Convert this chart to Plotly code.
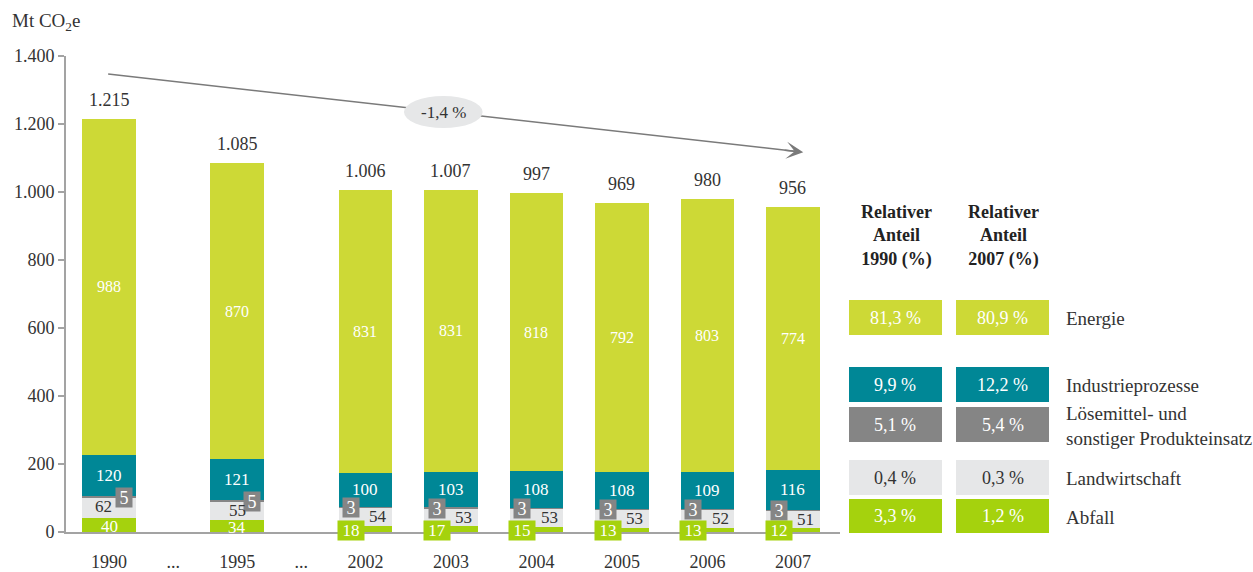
import plotly.graph_objects as go

# ---------------- data ----------------
years = ["1990", "1995", "2002", "2003", "2004", "2005", "2006", "2007"]
x_pos = [0, 1.5, 3, 4, 5, 6, 7, 8]          # gaps ("...") between 1990/1995/2002
gap_pos = [0.75, 2.25]
abfall = [40, 34, 18, 17, 15, 13, 13, 12]
landwirtschaft = [62, 55, 54, 53, 53, 53, 52, 51]
loesemittel = [5, 5, 3, 3, 3, 3, 3, 3]
industrie = [120, 121, 100, 103, 108, 108, 109, 116]
energie = [988, 870, 831, 831, 818, 792, 803, 774]
totals = [1215, 1085, 1006, 1007, 997, 969, 980, 956]
trend_label = "-1,4 %"
y_ticks = [0, 200, 400, 600, 800, 1000, 1200, 1400]
y_ticklabels = ["0", "200", "400", "600", "800", "1.000", "1.200", "1.400"]
table_names = ["Energie", "Industrieprozesse",
               "Lösemittel- und<br>sonstiger Produkteinsatz",
               "Landwirtschaft", "Abfall"]
share_1990 = ["81,3 %", "9,9 %", "5,1 %", "0,4 %", "3,3 %"]
share_2007 = ["80,9 %", "12,2 %", "5,4 %", "0,3 %", "1,2 %"]

# ---------------- style ----------------
C_ENERGIE = "#cdd936"
C_INDUSTRIE = "#008796"
C_LOESE = "#858585"
C_LAND = "#e6e7e8"
C_ABFALL = "#a5d20d"
TXT = "#333333"
AXIS = "#a3a3a3"
ARROW = "#7a7a7a"
FONT = "Liberation Serif"

W, H = 1253, 572
L, R, T, B = 66, 413, 56, 40
PW, PH = W - L - R, H - T - B
X0, X1 = -0.503, 8.55
Y0, Y1 = 0, 1400


def px_x(px):
    return (px - L) / PW


def px_y(py):
    return (H - B - py) / PH


def de(n):
    return f"{n:,}".replace(",", ".")


fig = go.Figure()
series = [("Abfall", abfall, C_ABFALL), ("Landwirtschaft", landwirtschaft, C_LAND),
          ("Lösemittel", loesemittel, C_LOESE), ("Industrieprozesse", industrie, C_INDUSTRIE),
          ("Energie", energie, C_ENERGIE)]
for name, vals, col in series:
    fig.add_trace(go.Bar(x=x_pos, y=vals, name=name, width=0.63,
                         marker=dict(color=col, line=dict(width=0)),
                         showlegend=False, hoverinfo="skip"))

ann = []
for i, x in enumerate(x_pos):
    a, l, s, ind, e = abfall[i], landwirtschaft[i], loesemittel[i], industrie[i], energie[i]
    ann.append(dict(x=x, y=totals[i], text=de(totals[i]), showarrow=False, yanchor="bottom",
                    yshift=7, font=dict(size=18, color=TXT)))
    ann.append(dict(x=x, y=a + l + s + ind + e / 2, text=str(e), showarrow=False,
                    font=dict(size=16, color="white")))
    ann.append(dict(x=x, y=a + l + s + ind / 2, text=str(ind), showarrow=False,
                    font=dict(size=17, color="white")))
    ann.append(dict(x=x, y=a + l, text=str(s), showarrow=False, xshift=(15 if i < 2 else -14),
                    bgcolor=C_LOESE, width=12, height=15, borderpad=2,
                    font=dict(size=18, color="white")))
    ann.append(dict(x=x, y=a + l / 2, text=str(l), showarrow=False,
                    xshift=(-6 if i == 0 else (0 if i == 1 else 13)),
                    yshift=(1 if i < 2 else 0),
                    font=dict(size=17, color=TXT)))
    if i < 2:
        ann.append(dict(x=x, y=a / 2, text=str(a), showarrow=False, yshift=-1,
                        font=dict(size=17, color="white")))
    else:
        ann.append(dict(x=x, y=0, text=str(a), showarrow=False, xshift=-14, yshift=2,
                        bgcolor=C_ABFALL, width=22, height=15, borderpad=2,
                        font=dict(size=17, color="white")))

# trend arrow (line + ellipse + head)
x_start, y_start = -0.01, 1347
x_end, y_end = 8.12, 1117
shapes = [
    dict(type="line", xref="x", yref="y", x0=x_start, y0=y_start, x1=x_end - 0.1, y1=y_end + 3,
         line=dict(color=ARROW, width=1.5), layer="above"),
    dict(type="circle", xref="x", yref="y", x0=3.45, x1=4.37, y0=1188, y1=1282,
         fillcolor="#e6e7e8", line=dict(width=0), layer="above"),
]
ann.append(dict(x=x_end, y=y_end, ax=-20, ay=-2.25, axref="pixel", ayref="pixel",
                text="", showarrow=True, arrowhead=3, arrowsize=1.9, arrowwidth=1.5,
                arrowcolor=ARROW, standoff=0))
ann.append(dict(x=3.91, y=1235, text=trend_label, showarrow=False,
                font=dict(size=17, color=TXT)))

# y axis title
ann.append(dict(xref="paper", yref="paper", x=px_x(10), y=px_y(22), xanchor="left",
                yanchor="middle", text="Mt CO<sub>2</sub>e", showarrow=False,
                font=dict(size=19, color=TXT)))

# right table
col_x = [(849, 942), (956, 1049)]
row_y = [(300, 335), (367, 402), (407, 442), (460, 495), (499, 533)]
row_cols = [C_ENERGIE, C_INDUSTRIE, C_LOESE, C_LAND, C_ABFALL]
for hx, yr in zip([896, 1003], ["1990", "2007"]):
    ann.append(dict(xref="paper", yref="paper", x=px_x(hx), y=px_y(236),
                    xanchor="center", yanchor="middle",
                    text=f"<b>Relativer<br>Anteil<br>{yr} (%)</b>", showarrow=False,
                    font=dict(size=18, color="#222222")))
for r in range(5):
    y0, y1 = row_y[r]
    tcol = TXT if row_cols[r] == C_LAND else "white"
    for c, vals in enumerate([share_1990, share_2007]):
        x0, x1 = col_x[c]
        shapes.append(dict(type="rect", xref="paper", yref="paper", x0=px_x(x0), x1=px_x(x1),
                           y0=px_y(y1), y1=px_y(y0), fillcolor=row_cols[r], line=dict(width=0)))
        ann.append(dict(xref="paper", yref="paper", x=px_x((x0 + x1) / 2), y=px_y((y0 + y1) / 2),
                        xanchor="center", yanchor="middle",
                        text=vals[r], showarrow=False, font=dict(size=18, color=tcol)))
    ann.append(dict(xref="paper", yref="paper", x=px_x(1064), y=px_y((y0 + y1) / 2 + 1),
                    xanchor="left", yanchor="middle", align="left", text=table_names[r],
                    showarrow=False, font=dict(size=19, color=TXT)))

fig.update_layout(
    width=W, height=H, margin=dict(l=L, r=R, t=T, b=B, autoexpand=False),
    barmode="stack", plot_bgcolor="white", paper_bgcolor="white",
    font=dict(family=FONT, color=TXT, size=18),
    annotations=ann, shapes=shapes,
    xaxis=dict(range=[X0, X1], tickvals=x_pos[:2] + gap_pos + x_pos[2:],
               ticktext=years[:2] + ["...", "..."] + years[2:],
               showline=True, linecolor=AXIS, linewidth=2, ticks="", showgrid=False,
               zeroline=False, tickfont=dict(size=18, color=TXT), ticklabelstandoff=12,
               automargin=False),
    yaxis=dict(range=[Y0, Y1], tickvals=y_ticks, ticktext=y_ticklabels,
               showline=True, linecolor=AXIS, linewidth=2, ticks="outside", ticklen=6,
               tickcolor=AXIS, tickwidth=1.5, showgrid=False, zeroline=False,
               tickfont=dict(size=18, color=TXT), automargin=False),
)

fig.write_html("out.html", config={"displayModeBar": False},
               post_script="document.body.style.margin='0px';document.body.style.overflow='hidden';")
